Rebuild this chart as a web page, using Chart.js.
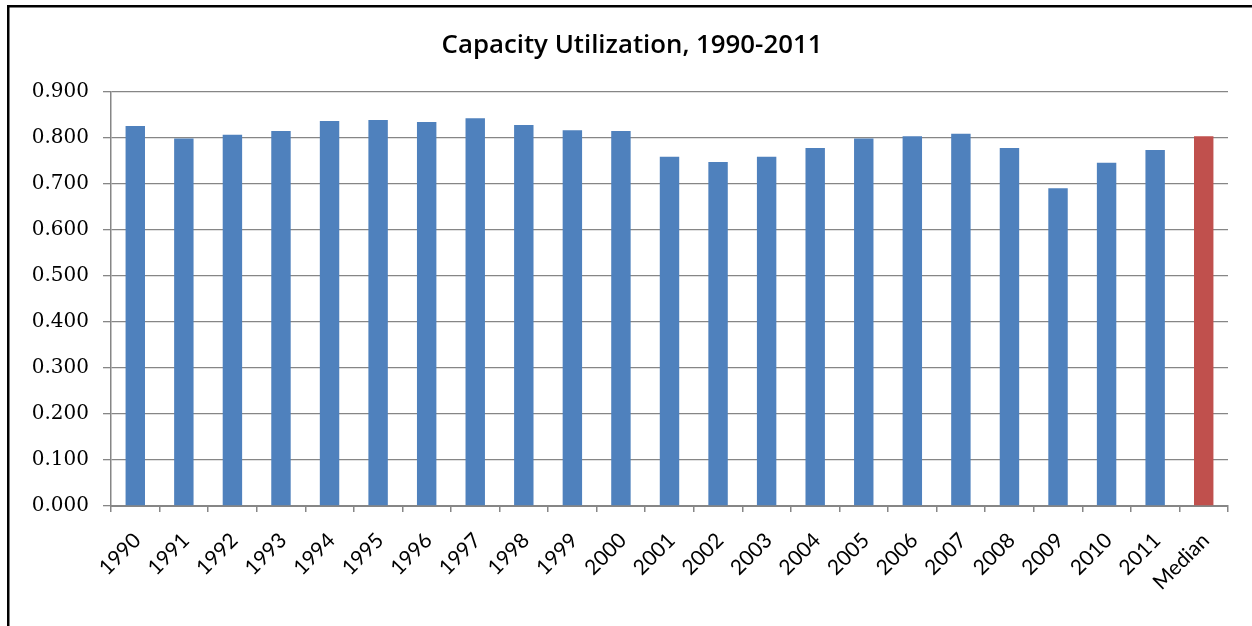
<!DOCTYPE html>
<html>
<head>
<meta charset="utf-8">
<title>Capacity Utilization</title>
<script src="https://cdn.jsdelivr.net/npm/chart.js@4.4.1/dist/chart.umd.min.js"></script>
<style>
  html, body { margin: 0; padding: 0; background: #fff; overflow: hidden; }
  canvas { display: block; }
</style>
</head>
<body>
<canvas id="capChart" width="1252" height="626"></canvas>
<script>
// yearly capacity utilization plus the median of the period
const years = ['1990', '1991', '1992', '1993', '1994', '1995', '1996', '1997', '1998', '1999',
  '2000', '2001', '2002', '2003', '2004', '2005', '2006', '2007', '2008', '2009', '2010', '2011', 'Median'];
const utilization = [0.826, 0.799, 0.807, 0.815, 0.837, 0.839, 0.835, 0.843, 0.828, 0.817,
  0.815, 0.759, 0.748, 0.759, 0.778, 0.799, 0.804, 0.809, 0.778, 0.691, 0.746, 0.774, 0.804];
const yTicks = [0, 0.1, 0.2, 0.3, 0.4, 0.5, 0.6, 0.7, 0.8, 0.9];
const chartTitle = 'Capacity Utilization, 1990-2011';

const BLUE = '#4f81bd';
const RED = '#c0504d';
const GRID = '#868686';

const barColors = years.map((y) => (y === 'Median' ? RED : BLUE));

// frame + title; the title is centred on the whole frame, not the plot
const framePlugin = {
  id: 'frame',
  afterDraw(chart) {
    const ctx = chart.ctx;
    ctx.save();
    ctx.strokeStyle = '#000';
    ctx.lineWidth = 2.5;
    ctx.strokeRect(8.25, 6.25, 1248, 700);

    ctx.fillStyle = '#000';
    ctx.font = '600 25.8px "Open Sans"';
    ctx.textAlign = 'center';
    ctx.textBaseline = 'middle';
    ctx.fillText(chartTitle, 632, 46);
    ctx.restore();
  }
};

const ctx = document.getElementById('capChart').getContext('2d');
new Chart(ctx, {
  type: 'bar',
  data: {
    labels: years,
    datasets: [{
      label: 'Capacity Utilization',
      data: utilization,
      backgroundColor: barColors,
      borderWidth: 0,
      barPercentage: 0.4,
      categoryPercentage: 1.0
    }]
  },
  options: {
    responsive: false,
    animation: false,
    layout: {
      padding: { left: 0, right: 24, top: 92, bottom: 0 }
    },
    plugins: {
      legend: { display: false },
      tooltip: { enabled: false },
      title: { display: false }
    },
    scales: {
      x: {
        grid: {
          display: true,
          drawOnChartArea: false,
          drawTicks: true,
          tickLength: 6,
          color: GRID,
          lineWidth: 1.5,
          offset: true
        },
        border: { color: GRID, width: 2 },
        ticks: {
          color: '#000',
          font: { family: 'Lato', size: 21 },
          minRotation: 45,
          maxRotation: 45,
          autoSkip: false,
          padding: 16,
          labelOffset: 2
        },
        afterFit(scale) {
          scale.height = 120;
        }
      },
      y: {
        min: 0,
        max: 0.9,
        afterBuildTicks(scale) {
          scale.ticks = yTicks.map((v) => ({ value: v }));
        },
        grid: {
          color: GRID,
          lineWidth: 1.3,
          tickLength: 8
        },
        border: { color: GRID, width: 1.5 },
        ticks: {
          color: '#000',
          font: { family: 'DejaVu Serif', size: 20 },
          padding: 14,
          callback: (v) => Number(v).toFixed(3)
        },
        afterFit(scale) {
          scale.width = 111;
        }
      }
    }
  },
  plugins: [framePlugin]
});
</script>
</body>
</html>
